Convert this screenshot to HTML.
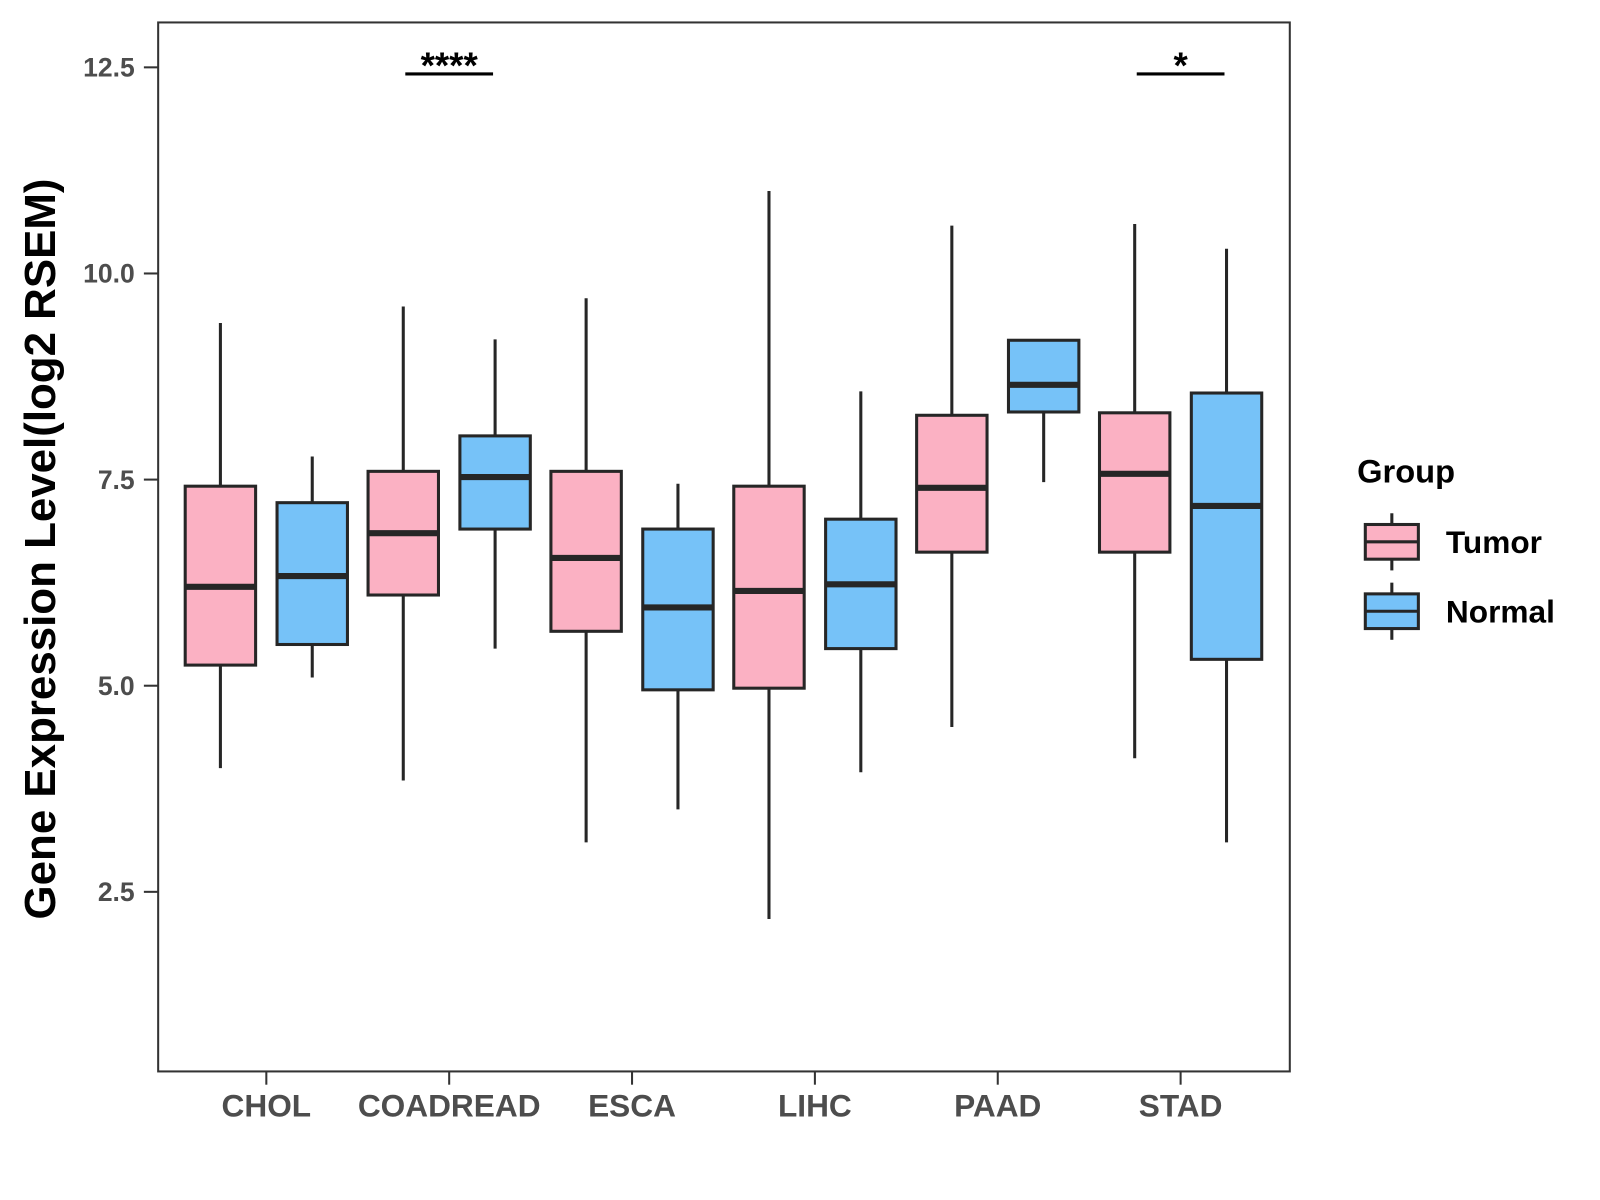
<!DOCTYPE html>
<html><head><meta charset="utf-8"><style>
html,body{margin:0;padding:0;background:#fff;}
svg{display:block;font-family:"Liberation Sans",Arial,sans-serif;}
</style></head><body>
<svg id="chart" width="1600" height="1200" viewBox="0 0 1568 1176" xmlns="http://www.w3.org/2000/svg">
<rect x="0" y="0" width="1568" height="1176" fill="#fff"/>
<g id="plot"></g>
<text transform="translate(54,538) rotate(-90)" text-anchor="middle" font-size="43" font-weight="bold" fill="#000">Gene Expression Level(log2 RSEM)</text>
<g>
<text x="1330" y="473" font-size="32" font-weight="bold">Group</text>
<g>
<line x1="1364" y1="503" x2="1364" y2="559" stroke="#262626" stroke-width="3"/>
<rect x="1338" y="514" width="52" height="34" fill="#FBB1C3" stroke="#262626" stroke-width="3"/>
<line x1="1338" y1="531" x2="1390" y2="531" stroke="#262626" stroke-width="3"/>
<text x="1417" y="542" font-size="31" font-weight="bold">Tumor</text>
</g>
<g>
<line x1="1364" y1="571" x2="1364" y2="627" stroke="#262626" stroke-width="3"/>
<rect x="1338" y="582" width="52" height="34" fill="#76C2F8" stroke="#262626" stroke-width="3"/>
<line x1="1338" y1="599" x2="1390" y2="599" stroke="#262626" stroke-width="3"/>
<text x="1417" y="610" font-size="31" font-weight="bold">Normal</text>
</g>
</g>
</svg>
<script>
const categories=["CHOL","COADREAD","ESCA","LIHC","PAAD","STAD"];
const tumorStats=[[4.0,5.25,6.2,7.42,9.4],[3.85,6.1,6.85,7.6,9.6],[3.1,5.66,6.55,7.6,9.7],[2.17,4.97,6.15,7.42,11.0],[4.5,6.62,7.4,8.28,10.58],[4.12,6.62,7.57,8.31,10.6]];
const normalStats=[[5.1,5.5,6.33,7.22,7.78],[5.45,6.9,7.53,8.03,9.2],[3.5,4.95,5.95,6.9,7.45],[3.95,5.45,6.23,7.02,8.57],[7.47,8.32,8.65,9.19,9.19],[3.1,5.32,7.18,8.55,10.3]];
const yTicks=[2.5,5.0,7.5,10.0,12.5];
const sigLabels=[["COADREAD","****"],["STAD","*"]];
const sigY=12.42;
const NS="http://www.w3.org/2000/svg";
const g=document.getElementById('plot');
const P={l:155,r:1264,t:22,b:1050};
const y=v=>66+(12.5-v)*80.8;
const x=i=>261+i*179.2;
function el(t,a,p){const e=document.createElementNS(NS,t);for(const k in a)e.setAttribute(k,a[k]);(p||g).appendChild(e);return e;}
const frame=el('rect',{x:P.l,y:P.t,width:P.r-P.l,height:P.b-P.t,fill:'none',stroke:'#333','stroke-width':2});


yTicks.forEach(v=>{
  const tk=el('line',{x1:141,x2:P.l,y1:y(v),y2:y(v),stroke:'#333','stroke-width':2});
  
  
  const t=el('text',{x:132,y:y(v)+9,'text-anchor':'end','font-size':26,'font-weight':'bold',fill:'#4d4d4d'});
  t.textContent=v.toFixed(1);
  
  
});
categories.forEach((c,i)=>{
  const tk=el('line',{x1:x(i),x2:x(i),y1:P.b,y2:P.b+13,stroke:'#333','stroke-width':2});
  
  
  const t=el('text',{x:x(i),y:1094,'text-anchor':'middle','font-size':31,'font-weight':'bold',fill:'#4d4d4d'});
  t.textContent=c;
  
  
  [[tumorStats[i],-45,'#FBB1C3','tumor'],[normalStats[i],45,'#76C2F8','normal']].forEach(([s,off,fill,nm])=>{
    const cx=x(i)+off,w=69;
    const bg=el('g',{});
    
    
    el('line',{x1:cx,x2:cx,y1:y(s[0]),y2:y(s[4]),stroke:'#262626','stroke-width':3},bg);
    el('rect',{x:cx-w/2,y:y(s[3]),width:w,height:y(s[1])-y(s[3]),fill:fill,stroke:'#262626','stroke-width':3},bg);
    el('line',{x1:cx-w/2,x2:cx+w/2,y1:y(s[2]),y2:y(s[2]),stroke:'#262626','stroke-width':6},bg);
  });
});
sigLabels.forEach(([c,lab])=>{
  const i=categories.indexOf(c);
  const ln=el('line',{x1:x(i)-43,x2:x(i)+43,y1:y(sigY),y2:y(sigY),stroke:'#000','stroke-width':3});
  
  
  const t=el('text',{x:x(i),y:y(sigY)+4,'text-anchor':'middle','font-size':36,'font-weight':'bold'});
  t.textContent=lab;
  
  
});
</script>
</body></html>
